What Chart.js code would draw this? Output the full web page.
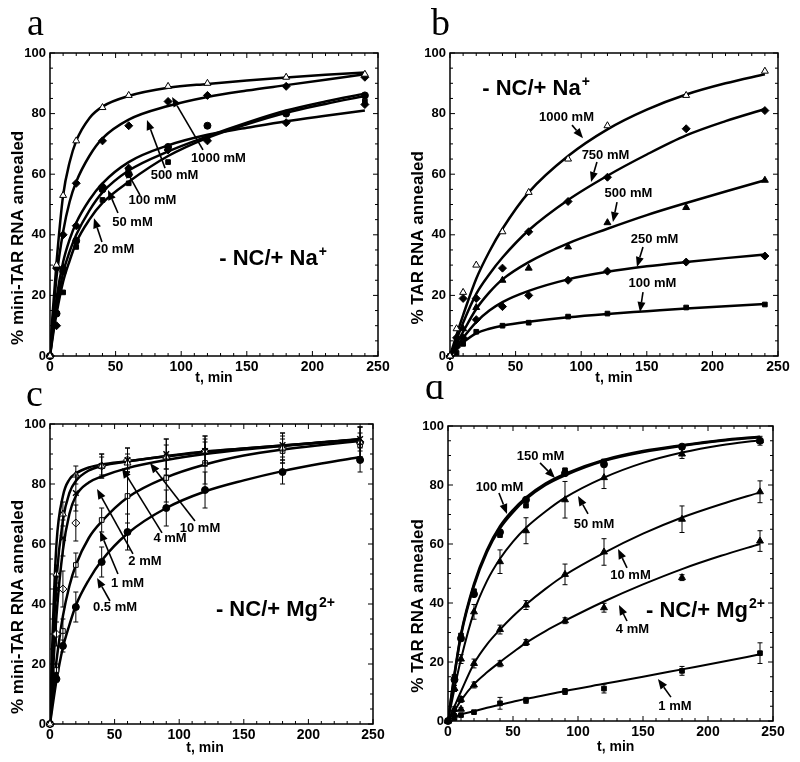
<!DOCTYPE html>
<html>
<head>
<meta charset="utf-8">
<script src="https://cdn.jsdelivr.net/npm/chart.js@4.4.0/dist/chart.umd.min.js"></script>
<style>
body{margin:0;background:#fff;width:800px;height:762px;position:relative;overflow:hidden}
canvas{position:absolute}
</style>
</head>
<body>
<canvas id="ca" width="400" height="400" style="left:0;top:0"></canvas>
<canvas id="cb" width="400" height="400" style="left:400px;top:0"></canvas>
<canvas id="cc" width="400" height="381" style="left:0;top:381px"></canvas>
<canvas id="cd" width="400" height="381" style="left:400px;top:381px"></canvas>
<script>
// sampling times of the measured points (min)
var tPts = [0, 5, 10, 20, 40, 60, 90, 120, 180, 240];

// ---- panel a : mini-TAR, Na+ ----
var fitA = [0, 2, 5, 10, 15, 20, 30, 40, 60, 90, 120, 150, 180, 210, 240];
var a1000Fit = [0, 14, 31, 53, 64, 71, 78.5, 82.3, 85.8, 88.5, 89.8, 90.9, 91.9, 92.8, 93.6];
var a500Fit  = [0, 11, 26, 41, 51, 57.5, 66, 71.8, 78, 82.5, 85.5, 87.6, 89.4, 91.2, 93];
var a100Fit  = [0, 8, 19, 31, 38.5, 44, 51.5, 57, 64, 69.5, 73, 75.3, 77.5, 79.3, 81];
var a50Fit   = [0, 7, 16, 27.5, 34.5, 40, 48, 54, 61.2, 67.5, 72.5, 77, 81, 84, 86.6];
var a20Fit   = [0, 6, 14, 24.5, 31.5, 37.5, 45, 50.5, 57.5, 66, 72, 76.5, 80.3, 83.2, 85.8];
var a1000 = [0, 30, 53, 71, 82, 86, 89, 90, 92, 93];
var a500  = [0, 29, 40, 57, 71, 76, 84, 86, 89, 92];
var a100  = [0, 10, 29, 43, 56, 62, 68, 71, 77, 83];
var a50   = [0, 14, 28, 38, 55, 60, 69, 76, 80, 86];
var a20   = [0, 14, 21, 36, 51.5, 57, 64, 72, 80, 84];

// ---- panel b : TAR, Na+ ----
var fitB = [0, 5, 10, 20, 30, 40, 60, 90, 120, 150, 180, 210, 240];
var b1000Fit = [0, 7, 13.5, 25.5, 34.5, 42, 54, 66, 74.8, 81.3, 86.3, 90, 93];
var b750Fit  = [0, 5.5, 11, 20.5, 27, 32.5, 41.5, 51.5, 59.5, 66.5, 72.8, 77.5, 81.5];
var b500Fit  = [0, 4, 8, 15.5, 21, 25.3, 31, 37.2, 42, 46.5, 50.5, 54.3, 58];
var b250Fit  = [0, 3, 6, 11.2, 15, 17.8, 21.5, 25.3, 27.8, 29.6, 31, 32.3, 33.5];
var b100Fit  = [0, 2.5, 4.5, 7.5, 9, 10, 11.3, 12.8, 13.9, 14.8, 15.7, 16.4, 17.2];
var b1000 = [0, 9, 21, 30, 41, 54, 65, 76, 86, 94];
var b750  = [0, 6, 19, 19, 29, 41, 51, 59, 75, 81];
var b500  = [0, 4, 9, 16, 25, 29, 36, 44, 49, 58];
var b250  = [0, 3, 6, 12, 16.3, 20, 25, 28, 31, 33];
var b100  = [0, 1, 4, 8, 10, 11, 13, 14, 16, 17];

// ---- panel c : mini-TAR, Mg2+ ----
var fitC = [0, 2, 5, 10, 15, 20, 30, 40, 60, 90, 120, 150, 180, 210, 240];
var c10Fit = [0, 30, 60, 76, 81.5, 83.5, 85.5, 86.5, 87.6, 89.3, 90.8, 91.8, 92.8, 93.8, 94.8];
var c4Fit  = [0, 22, 48, 68, 77, 81, 84.5, 86, 87.5, 89.2, 90.7, 91.8, 92.8, 93.9, 95];
var c2Fit  = [0, 15, 36, 58, 70, 76, 80.5, 82.5, 85.3, 88, 90, 91.5, 92.7, 93.8, 94.8];
var c1Fit  = [0, 9, 21, 36, 46, 53, 62, 67.5, 75.5, 82.2, 86.5, 89.5, 91.5, 93, 94.3];
var c05Fit = [0, 6, 14.5, 25.5, 33, 39.5, 48, 54.5, 63.5, 72, 77.5, 81.2, 84.3, 86.8, 89];
var c10 = [0, 50, 70, 83, 86, 87, 89, 91, 92, 94];
var c4  = [0, 45, 62, 77, 86, 88, 90, 91, 93, 95];
var c2  = [0, 30, 45, 67, 86, 88, 89, 91, 92, 94];
var c1  = [0, 18, 31, 53, 68, 76, 82, 87, 91, 93];
var c05 = [0, 15, 26, 39, 54, 64, 72, 78, 84, 88];
var c10Err = [0, 3, 4, 3, 3, 3, 4, 4, 4, 5];
var c4Err  = [0, 4, 6, 6, 4, 4, 5, 5, 4, 4];
var c2Err  = [0, 4, 6, 6, 4, 4, 6, 5, 5, 5];
var c1Err  = [0, 2, 4, 4, 4, 9, 8, 7, 4, 4];
var c05Err = [0, 1, 2, 5, 5, 6, 6, 6, 4, 4];

// ---- panel d : TAR, Mg2+ ----
var fitD = [0, 5, 10, 20, 30, 40, 50, 60, 75, 90, 120, 150, 180, 210, 240];
var d150Fit = [0, 16, 29.5, 46.5, 58, 66, 71.5, 75.8, 80.5, 83.8, 88.5, 91.5, 93.5, 95.2, 96.4];
var d100Fit = [0, 15.5, 29, 45.8, 57.3, 65.3, 70.8, 75.2, 80, 83.3, 88.2, 91.2, 93.3, 95, 96.2];
var d50Fit  = [0, 11, 21, 37, 47.5, 55, 60.8, 65.5, 71, 75.7, 82.5, 87.5, 91, 93.5, 95.2];
var d10Fit  = [0, 5, 10, 19.5, 26, 31, 35.5, 39.5, 44.8, 49.5, 57, 63.5, 69, 73.5, 77.5];
var d4Fit   = [0, 3.5, 7, 12.5, 16.5, 20, 23.3, 26.5, 30.5, 34, 40.5, 46.3, 51.5, 56, 60];
var d1Fit   = [0, 1.5, 2.3, 3.3, 4.5, 5.5, 6.5, 7.5, 8.8, 10.2, 12.6, 15, 17.5, 20, 22.6];
var d150 = [0, 15, 29, 44, 63, 73, 85, 88, 93, 95];
var d100 = [0, 14, 28, 43, 64, 75, 84, 87, 93, 95];
var d50  = [0, 11, 21, 37, 54, 64.5, 75, 82.5, 90.5, 95];
var d10  = [0, 4, 7.3, 19.5, 31, 39.3, 49.7, 57.3, 68.4, 77.7];
var d4   = [0, 2, 4, 12.2, 19.4, 26.6, 34, 38.4, 48.6, 61];
var d1   = [0, 1, 2, 3, 6, 7, 10, 11, 17, 23];
var d50Err = [0, 1, 1.5, 2.5, 4, 4.4, 6.2, 3.7, 1.5, 1.5];
var d10Err = [0, 0.8, 1, 1.5, 1.5, 1.5, 3.5, 4.5, 4.5, 3.7];
var d4Err  = [0, 0.5, 0.5, 1, 1, 1, 1, 1.5, 1, 3.5];
var d1Err  = [0, 0.5, 0.5, 0.5, 2, 1, 1, 1.5, 1.5, 3.5];

// annotations: [text, label t, label v, tail t, tail v, head t, head v]
var notesA = [
  ['1000 mM', 128.4, 65.3, 116.6, 68, 93, 85.5],
  ['500 mM', 94.9, 59.7, 87.7, 62, 73.9, 77.9],
  ['100 mM', 78.1, 51.5, 68.6, 53.1, 57.2, 62],
  ['50 mM', 62.9, 44.2, 51.8, 47.2, 44.2, 54.8],
  ['20 mM', 48.8, 35.3, 39.6, 37.6, 33.5, 45.5]
];
var notesB = [
  ['1000 mM', 88.8, 78.9, 93, 76.2, 101.4, 71.9],
  ['750 mM', 118.5, 66.3, 112, 64, 107.5, 57.4],
  ['500 mM', 136, 53.5, 127.3, 50.8, 124.2, 44.2],
  ['250 mM', 155.9, 38.6, 147.1, 36, 142.5, 29.4],
  ['100 mM', 154.3, 23.8, 147.1, 21.1, 144.8, 14.5]
];
var notesC = [
  ['10 mM', 116.1, 65.3, 112.2, 67.7, 77.4, 87],
  ['4 mM', 92.9, 61.7, 86.7, 63.7, 55.7, 85.3],
  ['2 mM', 73.5, 54.3, 64.2, 56.7, 36.4, 78.3],
  ['1 mM', 60, 47, 52.6, 50, 38.7, 64.3],
  ['0.5 mM', 50.3, 38.7, 46.4, 41, 36.4, 48.7]
];
var notesD = [
  ['150 mM', 71.2, 89.8, 70.8, 87.5, 82.3, 82.4],
  ['100 mM', 39.6, 79.3, 39.2, 77.3, 45.4, 70.2],
  ['50 mM', 112.3, 66.8, 107.7, 70.2, 100, 76.3],
  ['10 mM', 140.4, 49.5, 137.7, 51.9, 130.8, 58.3],
  ['4 mM', 141.9, 31.2, 137.7, 33.9, 131.5, 39.3],
  ['1 mM', 174.6, 5.1, 171.5, 8.1, 161.5, 14.2]
];

var FONT = "'Liberation Sans', Arial, sans-serif";

function pairs(xs, ys) {
  return xs.map(function (x, i) { return {x: x, y: ys[i]}; });
}

function curve(xs, ys, w) {
  return {data: pairs(xs, ys), showLine: true, borderColor: '#000', borderWidth: w,
    pointRadius: 0, cubicInterpolationMode: 'monotone', fill: false, order: 1};
}

function marks(ys, kind, errs) {
  var open = kind.indexOf('open') >= 0;
  var shape = {tri: 'triangle', dia: 'rectRot', sq: 'rect', circ: 'circle', x: 'crossRot', plus: 'cross'}[kind.split('-')[0]];
  var r = shape == 'rect' ? 3.3 : (shape == 'circle' ? 3.5 : 4);
  return {data: pairs(tPts, ys), showLine: false, pointStyle: shape, pointRadius: r,
    pointBackgroundColor: open ? '#fff' : '#000', pointBorderColor: '#000',
    pointBorderWidth: (shape == 'crossRot' || shape == 'cross') ? 1.5 : 1, clip: 8, order: 0, errs: errs};
}

var extras = {
  ca: {letter: 'a', lx: 27, ly: 35, yTitle: '% mini-TAR RNA annealed', notes: notesA, tag: ['- NC/+ Na', '+'], tagAt: [169.6, 32.7], xT: 125, xOff: 22},
  cb: {letter: 'b', lx: 31, ly: 35, yTitle: '% TAR RNA annealed', notes: notesB, tag: ['- NC/+ Na', '+'], tagAt: [65.2, 88.8], xT: 125, xOff: 22},
  cc: {letter: 'c', lx: 26, ly: 25, yTitle: '% mini-TAR RNA annealed', notes: notesC, tag: ['- NC/+ Mg', '2+'], tagAt: [174.1, 38.7], xT: 120, xOff: 24},
  cd: {letter: 'd', lx: 25, ly: 18, yTitle: '% TAR RNA annealed', notes: notesD, tag: ['- NC/+ Mg', '2+'], tagAt: [197.7, 38], xT: 129, xOff: 26}
};

function arrow(ctx, x0, y0, x1, y1) {
  var a = Math.atan2(y1 - y0, x1 - x0), hl = 10, hw = 4;
  var bx = x1 - hl * Math.cos(a), by = y1 - hl * Math.sin(a);
  ctx.beginPath(); ctx.moveTo(x0, y0); ctx.lineTo(bx, by); ctx.stroke();
  ctx.beginPath(); ctx.moveTo(x1, y1);
  ctx.lineTo(bx + hw * Math.sin(a), by - hw * Math.cos(a));
  ctx.lineTo(bx - hw * Math.sin(a), by + hw * Math.cos(a));
  ctx.closePath(); ctx.fill();
}

var decor = {
  id: 'decor',
  beforeDatasetsDraw: function (chart) {
    var ctx = chart.ctx, ca = chart.chartArea, sx = chart.scales.x, sy = chart.scales.y;
    ctx.save();
    ctx.strokeStyle = '#000';
    ctx.lineWidth = 1;
    ctx.beginPath();
    for (var t = 0; t <= 250; t += 10) {
      var px = sx.getPixelForValue(t), L = t % 50 == 0 ? 5 : 3;
      ctx.moveTo(px, ca.bottom); ctx.lineTo(px, ca.bottom - L);
      ctx.moveTo(px, ca.top); ctx.lineTo(px, ca.top + L);
    }
    for (var v = 0; v <= 100; v += 5) {
      var py = sy.getPixelForValue(v), L2 = v % 20 == 0 ? 5 : 3;
      ctx.moveTo(ca.left, py); ctx.lineTo(ca.left + L2, py);
      ctx.moveTo(ca.right, py); ctx.lineTo(ca.right - L2, py);
    }
    ctx.stroke();
    ctx.lineWidth = 1.5;
    ctx.strokeRect(ca.left, ca.top, ca.right - ca.left, ca.bottom - ca.top);
    ctx.restore();
  },
  afterDatasetsDraw: function (chart) {
    var ctx = chart.ctx, sx = chart.scales.x, sy = chart.scales.y, ex = extras[chart.canvas.id];
    ctx.save();
    ctx.strokeStyle = '#000'; ctx.fillStyle = '#000';
    // error bars
    ctx.lineWidth = 1;
    chart.data.datasets.forEach(function (ds) {
      if (!ds.errs) return;
      ds.data.forEach(function (p, i) {
        var e = ds.errs[i];
        if (!e) return;
        var px = sx.getPixelForValue(p.x), y0 = sy.getPixelForValue(p.y - e), y1 = sy.getPixelForValue(p.y + e);
        ctx.beginPath();
        ctx.moveTo(px, y0); ctx.lineTo(px, y1);
        ctx.moveTo(px - 2.5, y0); ctx.lineTo(px + 2.5, y0);
        ctx.moveTo(px - 2.5, y1); ctx.lineTo(px + 2.5, y1);
        ctx.stroke();
      });
    });
    // arrows and concentration labels
    ctx.lineWidth = 1.6;
    ctx.font = 'bold 13px ' + FONT;
    ctx.textAlign = 'center'; ctx.textBaseline = 'middle';
    ex.notes.forEach(function (n) {
      ctx.fillText(n[0], sx.getPixelForValue(n[1]), sy.getPixelForValue(n[2]));
      arrow(ctx, sx.getPixelForValue(n[3]), sy.getPixelForValue(n[4]), sx.getPixelForValue(n[5]), sy.getPixelForValue(n[6]));
    });
    // condition tag with superscript
    ctx.font = 'bold 22px ' + FONT;
    var w1 = ctx.measureText(ex.tag[0]).width;
    ctx.font = 'bold 14px ' + FONT;
    var w2 = ctx.measureText(ex.tag[1]).width;
    var cx = sx.getPixelForValue(ex.tagAt[0]) - (w1 + w2) / 2, cy = sy.getPixelForValue(ex.tagAt[1]);
    ctx.textAlign = 'left'; ctx.textBaseline = 'alphabetic';
    ctx.font = 'bold 22px ' + FONT;
    ctx.fillText(ex.tag[0], cx, cy + 8);
    ctx.font = 'bold 14px ' + FONT;
    ctx.fillText(ex.tag[1], cx + w1 + 1, cy - 1);
    // axis titles
    ctx.font = 'bold 14px ' + FONT;
    ctx.textAlign = 'center'; ctx.textBaseline = 'middle';
    ctx.fillText('t, min', sx.getPixelForValue(ex.xT), chart.chartArea.bottom + ex.xOff);
    ctx.font = 'bold 17px ' + FONT;
    ctx.save();
    ctx.translate(18, sy.getPixelForValue(39));
    ctx.rotate(-Math.PI / 2);
    ctx.fillText(ex.yTitle, 0, 0);
    ctx.restore();
    // panel letter
    ctx.font = "38px 'Liberation Serif', 'Times New Roman', serif";
    ctx.textAlign = 'left'; ctx.textBaseline = 'alphabetic';
    ctx.fillText(ex.letter, ex.lx, ex.ly);
    ctx.restore();
  }
};

function makeChart(id, datasets, yw, pad, xh) {
  return new Chart(document.getElementById(id), {
    type: 'scatter',
    data: {datasets: datasets},
    plugins: [decor],
    options: {
      responsive: false,
      animation: false,
      layout: {padding: pad},
      plugins: {legend: {display: false}, tooltip: {enabled: false}},
      scales: {
        x: {
          type: 'linear', min: 0, max: 250,
          ticks: {stepSize: 50, color: '#000', padding: 3, maxRotation: 0, font: {family: FONT, size: 14, weight: 'bold'}},
          grid: {display: false, drawTicks: false}, border: {display: false},
          afterFit: function (s) { s.height = xh; s.paddingLeft = 0; s.paddingRight = 0; }
        },
        y: {
          type: 'linear', min: 0, max: 100,
          ticks: {stepSize: 20, color: '#000', padding: 4, font: {family: FONT, size: 13, weight: 'bold'}},
          grid: {display: false, drawTicks: false}, border: {display: false},
          afterFit: function (s) { s.width = yw; s.paddingTop = 0; s.paddingBottom = 0; }
        }
      }
    }
  });
}

makeChart('ca', [
  curve(fitA, a1000Fit, 2.5), curve(fitA, a500Fit, 2.5), curve(fitA, a100Fit, 2.5),
  curve(fitA, a50Fit, 2.5), curve(fitA, a20Fit, 2.5),
  marks(a1000, 'tri-open'), marks(a500, 'dia'), marks(a100, 'dia'), marks(a50, 'circ'), marks(a20, 'sq')
], 50, {left: 0, top: 53, right: 22, bottom: 8}, 36);

makeChart('cb', [
  curve(fitB, b1000Fit, 2.5), curve(fitB, b750Fit, 2.5), curve(fitB, b500Fit, 2.5),
  curve(fitB, b250Fit, 2.5), curve(fitB, b100Fit, 2.5),
  marks(b1000, 'tri-open'), marks(b750, 'dia'), marks(b500, 'tri'), marks(b250, 'dia'), marks(b100, 'sq')
], 50, {left: 0, top: 53, right: 22, bottom: 8}, 36);

makeChart('cc', [
  curve(fitC, c10Fit, 2.5), curve(fitC, c4Fit, 2.5), curve(fitC, c2Fit, 2.5),
  curve(fitC, c1Fit, 2.5), curve(fitC, c05Fit, 2.5),
  marks(c10, 'tri-open', c10Err), marks(c4, 'x', c4Err), marks(c2, 'dia-open', c2Err),
  marks(c1, 'sq-open', c1Err), marks(c05, 'circ', c05Err)
], 50, {left: 0, top: 43, right: 27, bottom: 2}, 36);

makeChart('cd', [
  curve(fitD, d150Fit, 2.5), curve(fitD, d100Fit, 2.5), curve(fitD, d50Fit, 2),
  curve(fitD, d10Fit, 2), curve(fitD, d4Fit, 2), curve(fitD, d1Fit, 2),
  marks(d150, 'sq'), marks(d100, 'circ'), marks(d50, 'tri', d50Err),
  marks(d10, 'tri', d10Err), marks(d4, 'tri', d4Err), marks(d1, 'sq', d1Err)
], 48, {left: 0, top: 45, right: 27, bottom: 5}, 36);
</script>
</body>
</html>
